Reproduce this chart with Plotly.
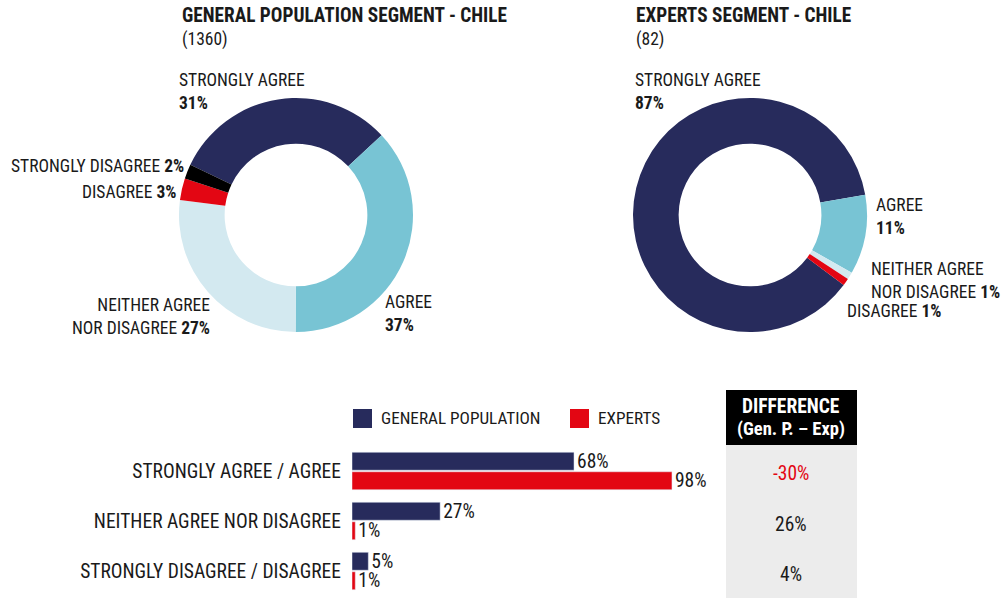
import plotly.graph_objects as go

W, H = 1001, 598

# donut data
segments = ["STRONGLY AGREE", "AGREE", "NEITHER AGREE NOR DISAGREE", "DISAGREE", "STRONGLY DISAGREE"]
seg_text = ["STRONGLY AGREE", "AGREE", "NEITHER AGREE<br>NOR DISAGREE", "DISAGREE", "STRONGLY DISAGREE"]
gp_values = [31, 37, 27, 3, 2]
exp_values = [87, 11, 1, 1, 0]
seg_colors = ["#272b5c", "#78c4d4", "#d3e9f0", "#e30613", "#000000"]

gp_n = 1360
exp_n = 82

# bar data
bar_cats = ["STRONGLY AGREE / AGREE", "NEITHER AGREE NOR DISAGREE", "STRONGLY DISAGREE / DISAGREE"]
bar_gp = [68, 27, 5]
bar_exp = [98, 1, 1]

FONT = "Liberation Sans Narrow, Arial Narrow, Roboto Condensed, Arial, sans-serif"
TXT = "#1a1a1a"
NAVY = seg_colors[0]
RED = seg_colors[3]
FS = 17.5
FS_BAR = 19.5


def px(x):
    return x / W


def py(y):
    return 1 - y / H


fig = go.Figure()

# donuts: left center (296,215), right center (750,215), radius ~117
R = 117
for cx, vals, rot in [(296, gp_values, -64.6), (750, exp_values, 126.8)]:
    fig.add_trace(go.Pie(
        labels=segments, values=vals, hole=0.61, sort=False, direction="clockwise",
        rotation=rot, textinfo="none", hoverinfo="label+percent",
        marker=dict(colors=seg_colors, line=dict(width=0)),
        domain=dict(x=[px(cx - R), px(cx + R)], y=[py(215 + R), py(215 - R)]),
        showlegend=False,
    ))

# bars
for vals, name, col in [(bar_gp, "GENERAL POPULATION", NAVY), (bar_exp, "EXPERTS", RED)]:
    fig.add_trace(go.Bar(
        y=bar_cats, x=vals, orientation="h", name=name,
        marker_color=col, texttemplate="%{x}%", textposition="outside",
        constraintext="none",
        textfont=dict(size=FS_BAR, color=TXT, family=FONT), cliponaxis=False,
        showlegend=False,
    ))

ann = []


def note(x, y, text, xanchor="left", align="left", size=FS, color=TXT):
    ann.append(dict(x=px(x), y=py(y), xref="paper", yref="paper", text=text,
                    showarrow=False, xanchor=xanchor, yanchor="middle", align=align,
                    font=dict(size=size, color=color, family=FONT)))


# titles
note(180, 16, "<b>GENERAL POPULATION SEGMENT - CHILE</b>", size=19.3)
note(180, 40, f"({gp_n})")
note(634, 16, "<b>EXPERTS SEGMENT - CHILE</b>", size=19.3)
note(634, 40, f"({exp_n})")

# left donut labels
note(177, 91, f"{seg_text[0]}<br><b>{gp_values[0]}%</b>")
note(383, 313, f"{seg_text[1]}<br><b>{gp_values[1]}%</b>")
note(212, 316, f"{seg_text[2]} <b>{gp_values[2]}%</b>", xanchor="right", align="right")
note(179, 192, f"{seg_text[3]} <b>{gp_values[3]}%</b>", xanchor="right", align="right")
note(186, 166, f"{seg_text[4]} <b>{gp_values[4]}%</b>", xanchor="right", align="right")

# right donut labels
note(633, 91, f"{seg_text[0]}<br><b>{exp_values[0]}%</b>")
note(874, 216, f"{seg_text[1]}<br><b>{exp_values[1]}%</b>")
note(869, 280, f"{seg_text[2]} <b>{exp_values[2]}%</b>")
note(845, 311, f"{seg_text[3]} <b>{exp_values[3]}%</b>")

# legend
shapes = [
    dict(type="rect", xref="paper", yref="paper", x0=px(353), x1=px(372), y0=py(428), y1=py(409),
         fillcolor=NAVY, line=dict(width=0)),
    dict(type="rect", xref="paper", yref="paper", x0=px(570), x1=px(589), y0=py(428), y1=py(409),
         fillcolor=RED, line=dict(width=0)),
    # difference box
    dict(type="rect", xref="paper", yref="paper", x0=px(726), x1=px(857), y0=py(445), y1=py(390),
         fillcolor="#000000", line=dict(width=0), layer="below"),
    dict(type="rect", xref="paper", yref="paper", x0=px(726), x1=px(857), y0=0, y1=py(445),
         fillcolor="#ececec", line=dict(width=0), layer="below"),
]
note(379, 418, "GENERAL POPULATION", size=17.2)
note(596, 418, "EXPERTS", size=17.2)

note(791, 406, "<b>DIFFERENCE</b>", xanchor="center", align="center", color="white", size=19.5)
note(791, 429, "<b>(Gen. P. – Exp)</b>", xanchor="center", align="center", color="white", size=18.5)

for cat, g, e in zip(bar_cats, bar_gp, bar_exp):
    d = g - e
    ann.append(dict(x=px(791), y=cat, xref="paper", yref="y", text=f"{d}%", showarrow=False,
                    xanchor="center", yanchor="middle", yshift=-3,
                    font=dict(size=FS_BAR, family=FONT, color=RED if d < 0 else TXT)))

fig.update_layout(
    width=W, height=H,
    margin=dict(l=0, r=0, t=0, b=0),
    paper_bgcolor="white", plot_bgcolor="white",
    font=dict(family=FONT, color=TXT, size=FS),
    barmode="group", bargap=0.22, bargroupgap=0.08,
    xaxis=dict(domain=[px(352), px(352 + 326.5)], range=[0, 100], visible=False, fixedrange=True),
    yaxis=dict(domain=[py(596), py(446)], autorange="reversed", showgrid=False, zeroline=False,
               showline=False, ticks="", ticklabelstandoff=10, fixedrange=True,
               tickfont=dict(size=FS_BAR, color=TXT, family=FONT)),
    annotations=ann,
    shapes=shapes,
)

# no default body margin so the figure sits at the page's top-left corner
fig.write_html("out.html", config={"displayModeBar": False},
               post_script="document.body.style.margin='0';")
